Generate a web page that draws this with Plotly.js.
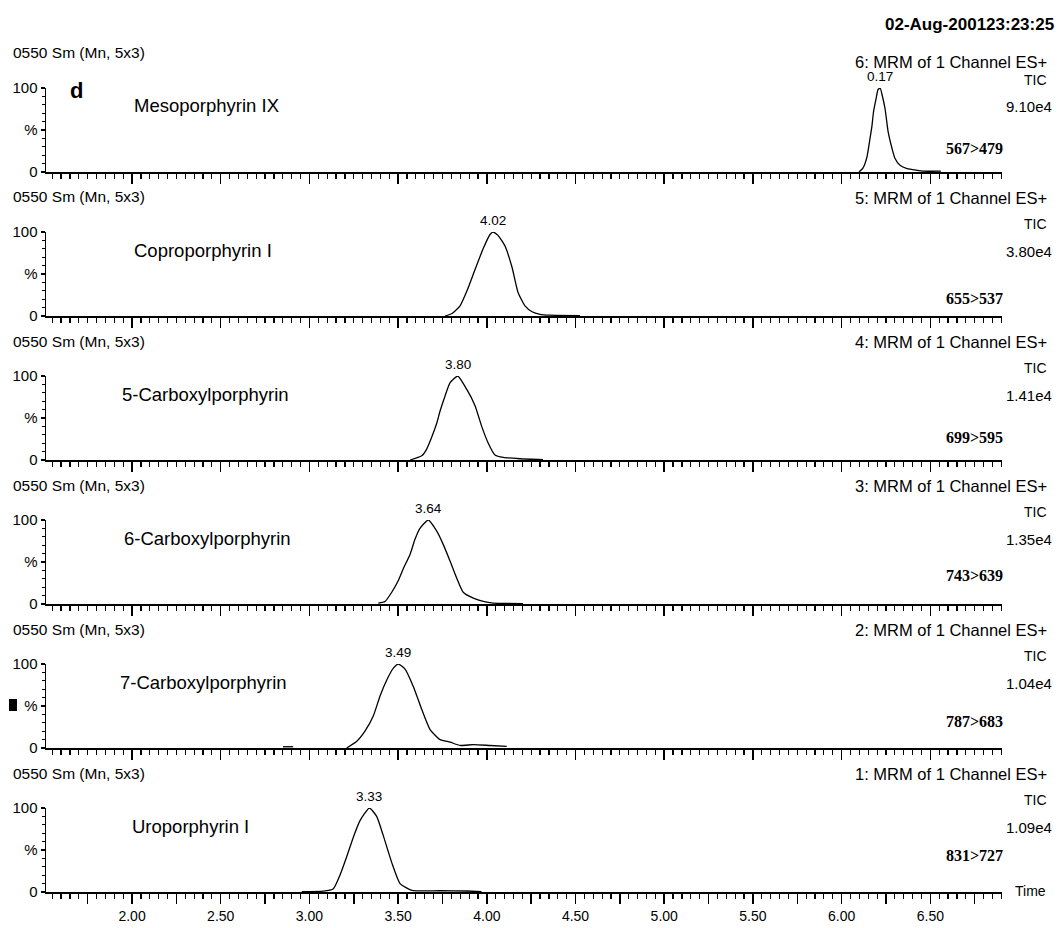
<!DOCTYPE html>
<html>
<head>
<meta charset="utf-8">
<script src="https://cdn.plot.ly/plotly-3.0.1.min.js"></script>
<style>
  html, body { margin: 0; padding: 0; background: #fff; }
  #chart { width: 1058px; height: 928px; }
</style>
</head>
<body>
<div id="chart"></div>
<script>
// ---- Data (top panel first) ----
const compounds = ['Mesoporphyrin IX', 'Coproporphyrin I', '5-Carboxylporphyrin', '6-Carboxylporphyrin', '7-Carboxylporphyrin', 'Uroporphyrin I'];
const channels = ['6: MRM of 1 Channel ES+', '5: MRM of 1 Channel ES+', '4: MRM of 1 Channel ES+', '3: MRM of 1 Channel ES+', '2: MRM of 1 Channel ES+', '1: MRM of 1 Channel ES+'];
const intensities = ['9.10e4', '3.80e4', '1.41e4', '1.35e4', '1.04e4', '1.09e4'];
const transitions = ['567>479', '655>537', '699>595', '743>639', '787>683', '831>727'];
const peakLabels = ['0.17', '4.02', '3.80', '3.64', '3.49', '3.33'];
const peakApex = [6.217, 4.035, 3.836, 3.670, 3.501, 3.338];
const headerLeft = '0550 Sm (Mn, 5x3)';
const dateText = '02-Aug-200123:23:25';

const xMajorTicks = [1.75, 2.00, 2.25, 2.50, 2.75, 3.00, 3.25, 3.50, 3.75, 4.00, 4.25, 4.50, 4.75, 5.00, 5.25, 5.50, 5.75, 6.00, 6.25, 6.50, 6.75];
const xTickLabels = ['', '2.00', '', '2.50', '', '3.00', '', '3.50', '', '4.00', '', '4.50', '', '5.00', '', '5.50', '', '6.00', '', '6.50', ''];
const yTickVals = [0, 50, 100];
const yTickLabels = ['0', '%', '100'];

const mesoT = [6.098, 6.121, 6.143, 6.160, 6.171, 6.180, 6.194, 6.205, 6.217, 6.228, 6.245, 6.262, 6.284, 6.301, 6.329, 6.369, 6.425, 6.46, 6.56];
const mesoY = [0, 5, 18, 40, 55, 72, 87, 98, 100, 92, 75, 48, 28, 16, 8, 4, 2, 1, 1];

const coproT = [3.764, 3.804, 3.849, 3.888, 3.933, 3.979, 4.018, 4.035, 4.063, 4.103, 4.142, 4.176, 4.215, 4.255, 4.300, 4.356, 4.525];
const coproY = [0, 3, 12, 30, 55, 80, 97, 100, 96, 83, 58, 28, 12, 5, 2, 1, 0.5];

const carb5T = [3.567, 3.633, 3.661, 3.689, 3.718, 3.736, 3.764, 3.793, 3.836, 3.887, 3.933, 3.971, 4.008, 4.046, 4.093, 4.187, 4.317];
const carb5Y = [0, 5, 13, 27, 44, 58, 76, 92, 100, 84, 65, 40, 20, 6, 3, 1.5, 0.5];

const carb6T = [3.388, 3.426, 3.464, 3.501, 3.529, 3.567, 3.595, 3.623, 3.670, 3.717, 3.754, 3.793, 3.830, 3.867, 3.924, 3.980, 4.036, 4.204];
const carb6Y = [1, 3, 14, 28, 42, 59, 77, 90, 100, 87, 71, 51, 31, 14, 7, 3, 1, 0.5];

const carb7T = [2.851, 2.908, null, 3.210, 3.267, 3.313, 3.360, 3.398, 3.436, 3.473, 3.501, 3.539, 3.586, 3.633, 3.680, 3.736, 3.793, 3.849, 3.924, 4.018, 4.112];
const carb7Y = [1.5, 1.5, null, 0, 8, 20, 38, 62, 81, 95, 100, 94, 73, 46, 22, 10, 7, 3, 4, 3, 2];

const uroT = [2.957, 3.078, 3.135, 3.172, 3.210, 3.247, 3.285, 3.338, 3.379, 3.415, 3.464, 3.511, 3.577, 3.736, 3.886, 3.970];
const uroY = [0.5, 1, 4, 20, 42, 65, 85, 100, 90, 68, 35, 10, 2, 1.5, 1.2, 0.5];

const seriesT = [mesoT, coproT, carb5T, carb6T, carb7T, uroT];
const seriesY = [mesoY, coproY, carb5Y, carb6Y, carb7Y, uroY];

// ---- Layout geometry ----
const W = 1058, H = 928;
const ML = 46, MR = 56, MT = 88, MB = 36;
const PW = W - ML - MR, PH = H - MT - MB;
const PANEL_PX = 84, PITCH = 144;
const FONT = 'Liberation Sans, Arial, sans-serif';
const xRange = [1.515, 6.904];

function px(x) { return (x - ML) / PW; }
function py(y) { return (H - MB - y) / PH; }

const traces = [];
const layout = {
  width: W, height: H,
  margin: {l: ML, r: MR, t: MT, b: MB, pad: 0},
  paper_bgcolor: '#fff', plot_bgcolor: '#fff',
  showlegend: false,
  font: {family: FONT, color: '#000', size: 15},
  annotations: [],
  shapes: []
};

const transY = [148, 298, 437, 575, 721, 855];
const compX = [132, 132, 120, 122, 118, 130];

for (let i = 0; i < 6; i++) {
  const n = i + 1;
  const xa = n === 1 ? 'x' : 'x' + n;
  const ya = n === 1 ? 'y' : 'y' + n;
  const topPx = MT + PITCH * i;
  const botPx = topPx + PANEL_PX;
  traces.push({
    x: seriesT[i], y: seriesY[i], xaxis: xa, yaxis: ya,
    type: 'scatter', mode: 'lines', cliponaxis: false,
    line: {color: '#000', width: 1.3, shape: 'spline', smoothing: 0.5},
    hoverinfo: 'skip'
  });
  const xKey = n === 1 ? 'xaxis' : 'xaxis' + n;
  const yKey = n === 1 ? 'yaxis' : 'yaxis' + n;
  layout[xKey] = {
    domain: [0, 1], anchor: ya, range: xRange, fixedrange: true,
    showgrid: false, zeroline: false, showline: true, linecolor: '#000', linewidth: 2,
    tickmode: 'array', tickvals: xMajorTicks, ticktext: xTickLabels,
    ticks: 'outside', ticklen: 10, tickwidth: 1.5, tickcolor: '#000',
    showticklabels: i === 5,
    tickfont: {family: FONT, size: 14, color: '#000'},
    minor: {tick0: 0, dtick: 0.05, ticks: 'outside', ticklen: 5, tickwidth: 1.2, tickcolor: '#000', showgrid: false}
  };
  layout[yKey] = {
    domain: [py(botPx), py(topPx)], anchor: xa, range: [0, 100], fixedrange: true,
    showgrid: false, zeroline: false, showline: true, linecolor: '#000', linewidth: 1.5,
    tickmode: 'array', tickvals: yTickVals, ticktext: yTickLabels,
    ticks: 'outside', ticklen: 4, tickwidth: 1.2, tickcolor: '#000',
    tickfont: {family: FONT, size: 15, color: '#000'},
    minor: {tick0: 0, dtick: 10, ticks: 'outside', ticklen: 3, tickwidth: 1, tickcolor: '#000', showgrid: false}
  };

  const A = layout.annotations;
  A.push({xref: 'paper', yref: 'paper', x: px(11), y: py(53 + PITCH * i), xanchor: 'left', yanchor: 'middle',
    text: headerLeft, showarrow: false, font: {family: FONT, size: 15.5, color: '#000'}});
  A.push({xref: 'paper', yref: 'paper', x: px(1049), y: py(i === 0 ? 62 : 54 + PITCH * i), xanchor: 'right', yanchor: 'middle',
    text: channels[i], showarrow: false, font: {family: FONT, size: 16.5, color: '#000'}});
  A.push({xref: 'paper', yref: 'paper', x: px(1049), y: py(80 + PITCH * i), xanchor: 'right', yanchor: 'middle',
    text: 'TIC', showarrow: false, font: {family: FONT, size: 14, color: '#000'}});
  A.push({xref: 'paper', yref: 'paper', x: px(1054), y: py(107 + PITCH * i), xanchor: 'right', yanchor: 'middle',
    text: intensities[i], showarrow: false, font: {family: FONT, size: 15, color: '#000'}});
  A.push({xref: 'paper', yref: 'paper', x: px(1005), y: py(transY[i]), xanchor: 'right', yanchor: 'middle',
    text: '<b>' + transitions[i] + '</b>', showarrow: false, font: {family: 'Liberation Serif, Times New Roman, serif', size: 16, color: '#000'}});
  A.push({xref: 'paper', yref: 'paper', x: px(compX[i]), y: py(106 + PITCH * i), xanchor: 'left', yanchor: 'middle',
    text: compounds[i], showarrow: false, font: {family: FONT, size: 18.5, color: '#000'}});
  A.push({xref: xa, yref: ya, x: peakApex[i], y: 100, xanchor: 'center', yanchor: 'bottom', yshift: 2,
    text: peakLabels[i], showarrow: false, font: {family: FONT, size: 13.5, color: '#000'}});
}

layout.annotations.push({xref: 'paper', yref: 'paper', x: px(68), y: py(91), xanchor: 'left', yanchor: 'middle',
  text: '<b>d</b>', showarrow: false, font: {family: FONT, size: 22, color: '#000'}});
layout.annotations.push({xref: 'paper', yref: 'paper', x: px(1056), y: py(25), xanchor: 'right', yanchor: 'middle',
  text: '<b>' + dateText + '</b>', showarrow: false, font: {family: FONT, size: 17, color: '#000'}});
layout.annotations.push({xref: 'paper', yref: 'paper', x: px(1013), y: py(891), xanchor: 'left', yanchor: 'middle',
  text: 'Time', showarrow: false, font: {family: FONT, size: 14, color: '#000'}});

layout.shapes.push({type: 'rect', xref: 'paper', yref: 'paper', x0: px(9), x1: px(17), y0: py(711), y1: py(699),
  fillcolor: '#000', line: {width: 0}});

Plotly.newPlot('chart', traces, layout, {staticPlot: true, displayModeBar: false});
</script>
</body>
</html>
